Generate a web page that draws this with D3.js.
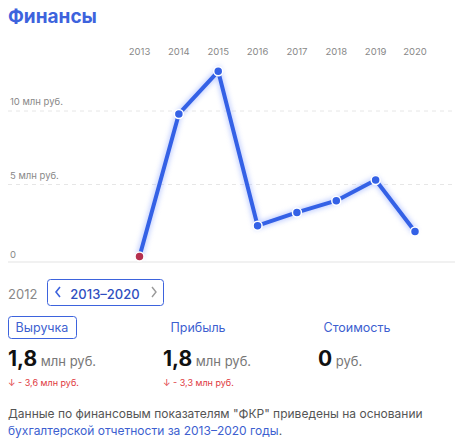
<!DOCTYPE html><html><head><meta charset="utf-8"><script src="https://cdn.jsdelivr.net/npm/d3@7"></script>
<style>body{margin:0;background:#fff;font-family:Inter,"Noto Sans",sans-serif}</style></head><body><svg id="c" width="465" height="440"></svg>
<script>
const years=["2013","2014","2015","2016","2017","2018","2019","2020"];
const values=[0.1,9.8,12.7,2.2,3.1,3.9,5.3,1.8];
const yTicks=[0,5,10];
const tickLabels=["0","5 млн руб.","10 млн руб."];
const svg=d3.select("#c");
const blue="#3461e6";
svg.append("text").attr("x",8).attr("y",23).attr("fill","#3d63dd").attr("font-size",19).attr("font-weight",700).text("Финансы");
const x=d3.scalePoint().domain(years).range([139.5,415]);
const y=d3.scaleLinear().domain([0,10]).range([258,111]);
yTicks.forEach((t,i)=>{
  svg.append("line").attr("x1",8).attr("x2",455).attr("y1",i==0?262:y(t)).attr("y2",i==0?262:y(t))
    .attr("stroke",i==0?"#e3e3e3":"#e6e6e6").attr("stroke-dasharray",i==0?null:"4,4");
  svg.append("text").attr("x",10).attr("y",(i==0?258:y(t)-6)).attr("font-size",9.5).attr("fill","#888").text(tickLabels[i]);
});
svg.append("g").selectAll("text").data(years).join("text").attr("x",d=>x(d)).attr("y",55).attr("text-anchor","middle")
  .attr("font-size",9.5).attr("fill","#888").text(d=>d);
const defs=svg.append("defs");
const f=defs.append("filter").attr("id","g").attr("x","-20%").attr("y","-20%").attr("width","140%").attr("height","140%");
f.append("feGaussianBlur").attr("stdDeviation",2.5);
const line=d3.line().x((d,i)=>x(years[i])).y(d=>y(d));
svg.append("path").attr("d",line(values)).attr("fill","none").attr("stroke","#9fb3ff").attr("stroke-width",7).attr("opacity",0.6).attr("filter","url(#g)");
svg.append("path").attr("d",line(values)).attr("fill","none").attr("stroke",blue).attr("stroke-width",4).attr("stroke-linejoin","round");
svg.append("g").selectAll("circle").data(values).join("circle").attr("cx",(d,i)=>x(years[i])).attr("cy",d=>y(d)).attr("r",4.5)
  .attr("fill",(d,i)=>i==0?"#b5304f":blue).attr("stroke","#fff").attr("stroke-width",1.5);
// controls
svg.append("text").attr("x",8).attr("y",299).attr("font-size",13).attr("fill","#888").text("2012");
svg.append("rect").attr("x",47.5).attr("y",279.5).attr("width",116).attr("height",26).attr("rx",3).attr("fill","none").attr("stroke","#3d63dd");
svg.append("path").attr("d","M60,287 l-4,5 l4,5").attr("fill","none").attr("stroke","#3d63dd").attr("stroke-width",1.6);
svg.append("path").attr("d","M152,287 l4,5 l-4,5").attr("fill","none").attr("stroke","#999").attr("stroke-width",1.4);
svg.append("text").attr("x",105).attr("y",299).attr("text-anchor","middle").attr("font-size",13).attr("fill","#2f4fbf").attr("font-weight",500).text("2013–2020");
svg.append("rect").attr("x",8.5).attr("y",316.5).attr("width",68).attr("height",22).attr("rx",3).attr("fill","none").attr("stroke","#3d63dd");
const tabs=[["Выручка",42],["Прибыль",198],["Стоимость",357]];
tabs.forEach(t=>svg.append("text").attr("x",t[1]).attr("y",332).attr("text-anchor","middle").attr("font-size",12.5).attr("fill","#3d5fd0").text(t[0]));
const big=[["1,8"," млн руб.",8],["1,8"," млн руб.",163],["0"," руб.",318]];
big.forEach(b=>{const t=svg.append("text").attr("x",b[2]).attr("y",366);
  t.append("tspan").attr("font-size",21).attr("font-weight",700).attr("fill","#111").text(b[0]);
  t.append("tspan").attr("font-size",13).attr("fill","#777").text(b[1]);});
[["↓ - 3,6 млн руб.",8],["↓ - 3,3 млн руб.",163]].forEach(c=>svg.append("text").attr("x",c[1]).attr("y",386).attr("font-size",9).attr("fill","#e0393e").text(c[0]));
svg.append("text").attr("x",8).attr("y",418).attr("font-size",12).attr("fill","#555").text("Данные по финансовым показателям \"ФКР\" приведены на основании");
const l2=svg.append("text").attr("x",8).attr("y",435).attr("font-size",12);
l2.append("tspan").attr("fill","#3d5fd0").text("бухгалтерской отчетности за 2013–2020 годы");
l2.append("tspan").attr("fill","#555").text(".");
</script></body></html>
